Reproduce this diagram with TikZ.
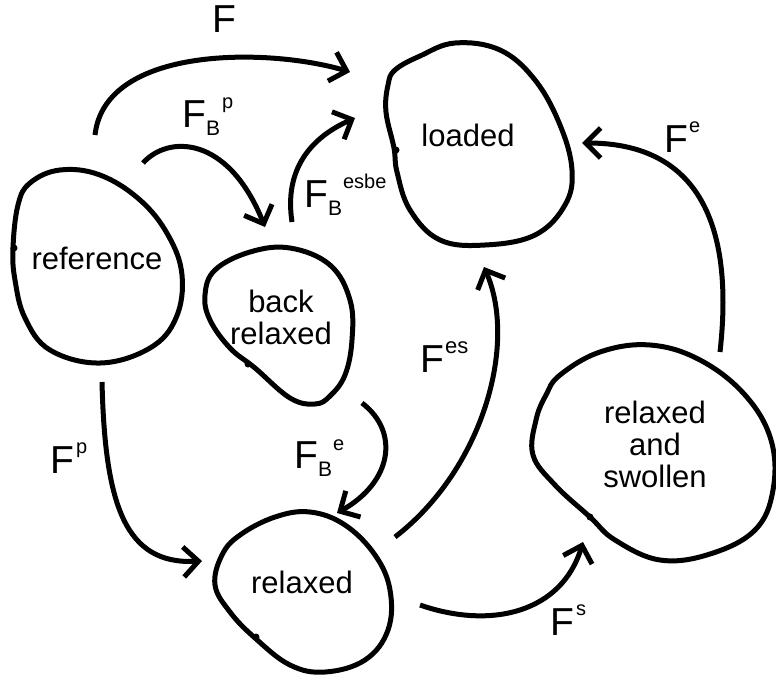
\documentclass[tikz,border=0pt]{standalone}
\usepackage{fontspec}
\setmainfont{Liberation Sans}
\usetikzlibrary{arrows.meta}
\newcommand{\bigF}{\fontsize{39}{40}\selectfont F}
\newcommand{\subB}[1]{\raisebox{-8pt}{\fontsize{21}{21}\selectfont #1}}
\newcommand{\supS}[2]{\raisebox{#1}{\fontsize{20}{20}\selectfont #2}}
\begin{document}
\begin{tikzpicture}[x=1pt,y=-1pt,
  blob/.style={line width=5pt,line join=round},
  nub/.style={fill=black},
  conn/.style={line width=5pt,line cap=butt,-{Straight Barb[length=15pt,width=30pt,line width=5pt]}},
  statetext/.style={font=\fontsize{31}{36}\selectfont,align=center,inner sep=0pt},
  labeltext/.style={inner sep=0pt,anchor=base west}]
\useasboundingbox (0,0) rectangle (776,681);

% blobs
\draw[blob] plot[smooth cycle,tension=0.65] coordinates {(30,183) (60,170) (100,175) (140,200) (168,235) (182,275) (176,318) (150,348) (100,363) (50,350) (25,318) (15,280) (13,248) (18,205)};
\draw[blob] plot[smooth cycle,tension=0.65] coordinates {(395,70) (420,56) (455,43) (500,50) (535,80) (560,125) (572,170) (565,205) (535,235) (485,245) (440,240) (410,210) (397,172) (394,148) (386,112) (388,85)};
\draw[blob] plot[smooth cycle,tension=0.65] coordinates {(215,270) (250,252) (290,248) (330,265) (350,300) (352,340) (345,375) (330,396) (315,404) (290,398) (255,368) (230,348) (210,320) (205,295)};
\draw[blob] plot[smooth cycle,tension=0.65] coordinates {(240,535) (275,517) (310,512) (345,525) (375,555) (390,590) (388,630) (365,660) (325,672) (290,665) (255,638) (230,612) (215,585) (222,555)};
\draw[blob] plot[smooth cycle,tension=0.65] coordinates {(560,375) (600,352) (650,345) (700,360) (745,395) (771,440) (773,490) (755,530) (710,554) (660,560) (615,540) (590,517) (555,485) (533,455) (536,420) (546,395)};

% small pen nubs
\fill[nub] (14,248) circle (3.5pt);
\fill[nub] (396,150) circle (3.5pt);
\fill[nub] (248,364) circle (3.5pt);
\fill[nub] (256,637) circle (3.5pt);
\fill[nub] (590,517) circle (3.5pt);

% state texts
\node[statetext] (ref) at (97,258) {reference};
\node[statetext] (loaded) at (468,135) {loaded};
\node[statetext] (back) at (281,317) {back\\[-4pt]relaxed};
\node[statetext] (relaxed) at (302,582) {relaxed};
\node[statetext] (swollen) at (655,444) {relaxed\\[-4pt]and\\[-4pt]swollen};

% connector end points
\coordinate (a1) at (95,135);  \coordinate (b1) at (350,72);
\coordinate (a2) at (143,163); \coordinate (b2) at (265,227);
\coordinate (a3) at (292,222); \coordinate (b3) at (355,118);
\coordinate (a4) at (102,382); \coordinate (b4) at (202,561);
\coordinate (a5) at (362,403); \coordinate (b5) at (337,513);
\coordinate (a6) at (395,537); \coordinate (b6) at (484,267);
\coordinate (a7) at (720,352); \coordinate (b7) at (582,143);
\coordinate (a8) at (420,605); \coordinate (b8) at (583,542);

\draw[conn] (a1) .. controls (105,45) and (270,48) .. (b1);
\draw[conn] (a2) .. controls (168,135) and (228,135) .. (b2);
\draw[conn] (a3) .. controls (284,170) and (310,138) .. (b3);
\draw[conn] (a4) .. controls (105,505) and (125,565) .. (b4);
\draw[conn] (a5) .. controls (400,432) and (392,482) .. (b5);
\draw[conn] (a6) .. controls (482,470) and (518,345) .. (b6);
\draw[conn] (a7) .. controls (737,200) and (680,143) .. (b7);
\draw[conn] (a8) .. controls (492,630) and (562,612) .. (b8);

% labels
\node[labeltext] (lF) at (212,32) {\bigF};
\node[labeltext] (lFBp) at (182,127) {\bigF\subB{B}\hspace{2pt}\supS{19pt}{p}};
\node[labeltext] (lFBesbe) at (304,207) {\bigF\subB{B}\hspace{1pt}\supS{19pt}{esbe}};
\node[labeltext] (lFp) at (50,473) {\bigF\hspace{2pt}\supS{20pt}{p}};
\node[labeltext] (lFBe) at (294,468) {\bigF\subB{B}\hspace{1pt}\supS{18pt}{e}};
\node[labeltext] (lFes) at (420,372) {\bigF\hspace{1pt}\supS{19pt}{\fontsize{22}{22}\selectfont es}};
\node[labeltext] (lFe) at (664,152) {\bigF\hspace{1pt}\supS{20pt}{e}};
\node[labeltext] (lFs) at (550,635) {\bigF\hspace{2pt}\supS{20pt}{s}};
\end{tikzpicture}
\end{document}
